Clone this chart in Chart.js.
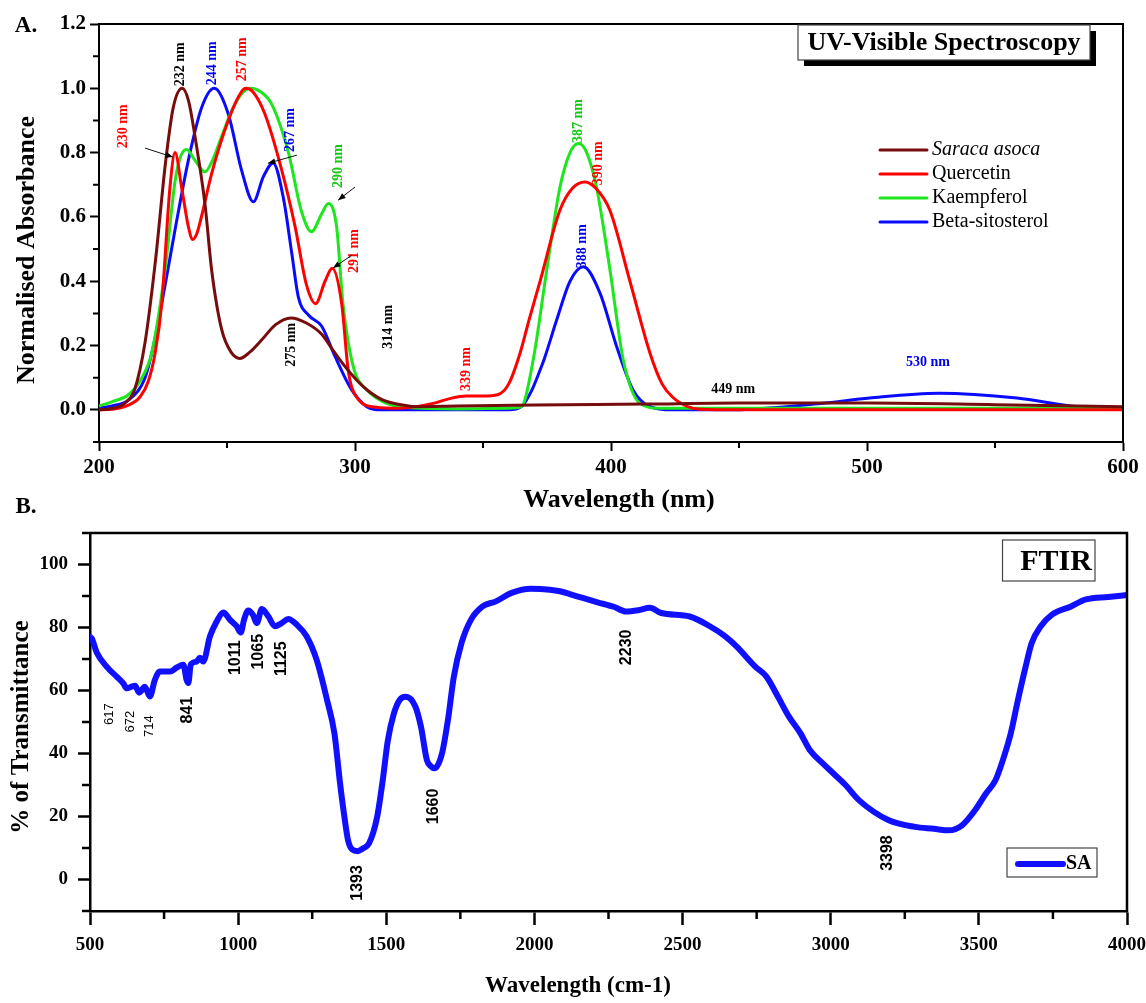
<!DOCTYPE html>
<html>
<head>
<meta charset="utf-8">
<title>UV-Visible and FTIR spectra</title>
<script src="https://cdn.jsdelivr.net/npm/chart.js@4.4.1/dist/chart.umd.min.js"></script>
<style>
  html, body { margin: 0; padding: 0; background: #fff; }
  #page { position: relative; width: 1146px; height: 1003px; overflow: hidden; }
  #uvChart { position: absolute; left: 0; top: 0; }
  #ftirChart { position: absolute; left: 0; top: 490px; }
</style>
</head>
<body>
<div id="page">
  <canvas id="uvChart" width="1146" height="520"></canvas>
  <canvas id="ftirChart" width="1146" height="513"></canvas>
</div>
<script>
// ---------- A. UV-Visible ----------
const uvXTicks = [200, 300, 400, 500, 600];
const uvXMinor = [250, 350, 450, 550];
const uvYTicks = [0, 0.2, 0.4, 0.6, 0.8, 1.0, 1.2];
const uvYMinor = [-0.1, 0.1, 0.3, 0.5, 0.7, 0.9, 1.1];

const uvSeries = ['Saraca asoca', 'Quercetin', 'Kaempferol', 'Beta-sitosterol'];
const uvColors = ['#760c0c', '#ff0000', '#1ee61e', '#0a0aff'];

const saracaX = [200, 205, 210, 214, 218, 222, 226, 229, 232.5, 235, 237.5, 241.4, 244, 247.9, 251.8, 255, 259, 263.5, 269, 275, 281, 287, 291, 295, 300.6, 305, 311, 318, 324, 340, 370, 413, 450, 501, 550, 600];
const saracaY = [0, 0.004, 0.02, 0.065, 0.21, 0.46, 0.77, 0.94, 1.0, 0.96, 0.85, 0.64, 0.435, 0.25, 0.177, 0.16, 0.18, 0.217, 0.265, 0.286, 0.27, 0.235, 0.19, 0.146, 0.093, 0.06, 0.03, 0.016, 0.01, 0.012, 0.015, 0.018, 0.021, 0.021, 0.016, 0.01];

const quercetinX = [200, 205, 211.5, 216, 219.3, 222, 224.5, 227.7, 229.7, 232.3, 234.9, 236.6, 238.3, 240, 244, 250.5, 255.7, 257.4, 260, 264.8, 271.4, 276.6, 281, 284.6, 288.3, 291.1, 294.8, 297.4, 300.6, 308.4, 317, 324, 330.5, 337, 343.6, 350, 355.7, 360, 364.5, 368, 372.3, 380, 385, 389.8, 394, 399.6, 407.4, 415.2, 420, 424, 430, 434.8, 450, 600];
const quercetinY = [0, 0.002, 0.015, 0.04, 0.09, 0.18, 0.33, 0.69, 0.80, 0.69, 0.57, 0.53, 0.55, 0.6, 0.735, 0.90, 0.99, 1.0, 0.99, 0.92, 0.745, 0.57, 0.39, 0.33, 0.40, 0.44, 0.33, 0.12, 0.04, 0.008, 0.005, 0.01, 0.02, 0.035, 0.043, 0.043, 0.047, 0.08, 0.177, 0.28, 0.40, 0.62, 0.69, 0.709, 0.69, 0.62, 0.40, 0.177, 0.08, 0.04, 0.01, 0.002, 0, 0];

const kaempferolX = [200, 205, 211.5, 216, 220.6, 225.8, 229.7, 232, 234.2, 237.5, 241.4, 244, 247.9, 253, 259, 263, 267.5, 274, 279, 283, 287, 289.6, 292.8, 295.3, 299.3, 304.6, 312.4, 320, 340, 360, 365, 369.6, 374.9, 380, 384, 387.4, 390.5, 394.4, 399.6, 404.8, 411.3, 419, 450, 600];
const kaempferolY = [0.012, 0.025, 0.047, 0.09, 0.177, 0.435, 0.71, 0.79, 0.81, 0.776, 0.74, 0.77, 0.85, 0.95, 1.0, 0.99, 0.95, 0.80, 0.62, 0.554, 0.61, 0.642, 0.57, 0.33, 0.135, 0.062, 0.02, 0.007, 0.003, 0.005, 0.01, 0.155, 0.435, 0.69, 0.80, 0.828, 0.80, 0.69, 0.435, 0.155, 0.02, 0.005, 0.005, 0.005];

const sitosterolX = [200, 205, 211.5, 218, 221, 224.5, 229.7, 234.9, 240.1, 245, 250.5, 255.7, 260.3, 264.2, 268, 272, 275.3, 277.9, 281.8, 287, 292.2, 298.7, 304.6, 310, 360, 365, 369, 372.3, 374, 378.8, 384, 389.2, 395.7, 402.2, 408.6, 415.2, 424, 445, 482, 501, 528, 558.6, 581.6, 600];
const sitosterolY = [0.005, 0.012, 0.03, 0.10, 0.19, 0.33, 0.56, 0.776, 0.94, 1.0, 0.92, 0.745, 0.647, 0.725, 0.768, 0.66, 0.487, 0.35, 0.295, 0.26, 0.166, 0.062, 0.01, 0, 0, 0.01, 0.06, 0.124, 0.16, 0.28, 0.40, 0.445, 0.363, 0.197, 0.062, 0.01, 0, 0, 0.02, 0.037, 0.052, 0.037, 0.01, 0.003];

// ---------- B. FTIR ----------
const ftirXTicks = [500, 1000, 1500, 2000, 2500, 3000, 3500, 4000];
const ftirXMinor = [750, 1250, 1750, 2250, 2750, 3250, 3750];
const ftirYTicks = [0, 20, 40, 60, 80, 100];
const ftirYMinor = [-10, 10, 30, 50, 70, 90, 110];

const ftirX = [500, 506, 523, 556, 590, 612, 624, 640, 652, 666, 685, 702, 719, 736, 770, 793, 815, 826, 832, 840, 860, 871, 882, 905, 928, 950, 972, 995, 1009, 1020, 1034, 1050, 1063, 1080, 1102, 1124, 1147, 1169, 1198, 1231, 1265, 1300, 1325, 1344, 1357, 1371, 1385, 1403, 1420, 1442, 1469, 1488, 1505, 1525, 1545, 1566, 1598, 1617, 1637, 1650, 1663, 1688, 1708, 1728, 1754, 1786, 1825, 1870, 1923, 1988, 2052, 2086, 2144, 2213, 2270, 2308, 2350, 2390, 2428, 2524, 2592, 2644, 2682, 2745, 2783, 2822, 2859, 2898, 2930, 2974, 3011, 3050, 3095, 3196, 3284, 3348, 3398, 3443, 3487, 3524, 3556, 3581, 3608, 3632, 3658, 3678, 3709, 3747, 3811, 3861, 3937, 4000];
const ftirY = [77, 76.5, 72, 67.6, 64.4, 62.3, 60.7, 61.2, 61.5, 59.3, 61.2, 58.1, 63.4, 66, 66, 67.3, 68.2, 63.4, 62.4, 68.2, 69.2, 70.4, 69.2, 77.2, 82, 84.8, 82.5, 80.4, 78.4, 82.5, 85.4, 84, 81.4, 85.9, 83.5, 80.4, 81.4, 82.7, 80.9, 77.2, 69.7, 57, 46.4, 30.5, 21, 12.4, 9.5, 9, 9.8, 11.5, 19.8, 31.5, 44, 52.5, 57, 58, 54.9, 48.5, 37.9, 36, 35.3, 40, 50.6, 64.4, 75.1, 82.5, 86.7, 88.3, 91, 92.3, 92, 91.5, 89.9, 88, 86.5, 85.1, 85.5, 86.3, 84.6, 83.5, 80.4, 77.2, 74, 67.6, 64.4, 58, 51.7, 46.4, 41, 36.8, 33.5, 30, 25.2, 18.8, 16.7, 16.1, 15.6, 17.2, 22, 27.3, 31.5, 37.9, 46.5, 57, 67.6, 75, 80.4, 84.1, 86.7, 88.9, 89.7, 90.3];

const SERIF = "'Liberation Serif', 'Times New Roman', serif";
const SANS = "'Liberation Sans', Arial, sans-serif";
Chart.defaults.font.family = SERIF;
Chart.defaults.color = '#000';

function points(xs, ys) {
  return xs.map((x, i) => ({ x, y: ys[i] }));
}

function arrow(ctx, x1, y1, x2, y2) {
  const ang = Math.atan2(y2 - y1, x2 - x1), h = 8;
  ctx.beginPath();
  ctx.moveTo(x1, y1);
  ctx.lineTo(x2, y2);
  ctx.stroke();
  ctx.beginPath();
  ctx.moveTo(x2, y2);
  ctx.lineTo(x2 - h * Math.cos(ang - 0.38), y2 - h * Math.sin(ang - 0.38));
  ctx.lineTo(x2 - h * Math.cos(ang + 0.38), y2 - h * Math.sin(ang + 0.38));
  ctx.closePath();
  ctx.fill();
}

function text(ctx, str, x, y, font, color, rot, align) {
  ctx.save();
  ctx.translate(x, y);
  if (rot) ctx.rotate(-Math.PI / 2);
  ctx.font = font;
  ctx.fillStyle = color || '#000';
  ctx.textAlign = align || 'center';
  ctx.textBaseline = 'middle';
  ctx.fillText(str, 0, 0);
  ctx.restore();
}

// frame, minor ticks, axis titles, peak labels, boxes
const panelPlugin = {
  id: 'panel',
  afterDraw(chart, args, o) {
    const { ctx, chartArea: a } = chart;
    const xs = chart.scales.x, ys = chart.scales.y;
    ctx.save();
    ctx.strokeStyle = '#000';
    ctx.lineWidth = o.lineWidth;
    ctx.beginPath();
    ctx.moveTo(a.left, a.top);
    ctx.lineTo(a.right, a.top);
    ctx.lineTo(a.right, a.bottom + o.lineWidth / 2);
    ctx.stroke();

    ctx.beginPath();
    o.xMinor.forEach(v => {
      const px = xs.getPixelForValue(v);
      ctx.moveTo(px, a.bottom);
      ctx.lineTo(px, a.bottom + o.minorLen);
    });
    o.yMinor.forEach(v => {
      const py = ys.getPixelForValue(v);
      ctx.moveTo(a.left, py);
      ctx.lineTo(a.left - o.minorLen, py);
    });
    ctx.stroke();

    text(ctx, o.letter.text, o.letter.x, o.letter.y, `bold ${o.letter.size}px ${SERIF}`);
    o.titles.forEach(t => text(ctx, t.text, t.x, t.y, `bold ${t.size}px ${SERIF}`, '#000', t.rot));

    (o.labels || []).forEach(l => {
      text(ctx, l.text, xs.getPixelForValue(l.x), ys.getPixelForValue(l.y),
        `${l.weight || 'bold'} ${l.size}px ${l.family || SERIF}`, l.color, l.rot !== false);
    });

    ctx.fillStyle = '#000';
    ctx.strokeStyle = '#111';
    ctx.lineWidth = 1;
    (o.arrows || []).forEach(r => {
      arrow(ctx, xs.getPixelForValue(r.x1), ys.getPixelForValue(r.y1),
        xs.getPixelForValue(r.x2), ys.getPixelForValue(r.y2));
    });

    if (o.badge) {
      const b = o.badge;
      if (b.shadow) {
        ctx.fillStyle = '#000';
        ctx.fillRect(b.x + b.shadow, b.y + b.shadow, b.w, b.h);
      }
      ctx.fillStyle = '#fff';
      ctx.fillRect(b.x, b.y, b.w, b.h);
      ctx.strokeStyle = '#444';
      ctx.lineWidth = 1.2;
      ctx.strokeRect(b.x, b.y, b.w, b.h);
      text(ctx, b.text, b.tx, b.ty, `bold ${b.size}px ${SERIF}`);
    }

    if (o.legend) {
      const g = o.legend;
      if (g.box) {
        ctx.fillStyle = '#fff';
        ctx.fillRect(g.box.x, g.box.y, g.box.w, g.box.h);
        ctx.strokeStyle = '#444';
        ctx.lineWidth = 1.2;
        ctx.strokeRect(g.box.x, g.box.y, g.box.w, g.box.h);
      }
      chart.data.datasets.forEach((ds, i) => {
        const y = g.y + i * g.step;
        ctx.strokeStyle = ds.borderColor;
        ctx.lineWidth = g.lineWidth;
        ctx.lineCap = 'round';
        ctx.beginPath();
        ctx.moveTo(g.x1, y);
        ctx.lineTo(g.x2, y);
        ctx.stroke();
        const style = (g.italic || []).includes(i) ? 'italic ' : '';
        text(ctx, ds.label, g.x2 + g.gap, y, `${style}${g.weight} ${g.size}px ${SERIF}`, '#000', false, 'left');
      });
    }
    ctx.restore();
  }
};

function axis(ticks, fmt, o) {
  return {
    type: 'linear',
    min: o.min,
    max: o.max,
    afterBuildTicks: s => { s.ticks = ticks.map(v => ({ value: v })); },
    afterFit: s => {
      if (o.width) s.width = o.width;
      if (o.height) s.height = o.height;
      // labels may hang past the plot edge, as in the original
      s.paddingLeft = 0; s.paddingRight = 0; s.paddingTop = 0; s.paddingBottom = 0;
    },
    grid: { drawOnChartArea: false, drawTicks: true, tickLength: o.tickLen, tickWidth: o.lw, tickColor: '#000' },
    border: { display: true, color: '#000', width: o.lw },
    ticks: { callback: fmt, font: { size: o.font, weight: 'bold' }, color: '#000', padding: o.pad, maxRotation: 0, autoSkip: false }
  };
}

const red = '#ff0000', green = '#12c812', blue = '#0000f0', black = '#000';

new Chart(document.getElementById('uvChart'), {
  type: 'line',
  data: {
    datasets: [
      { label: uvSeries[0], data: points(saracaX, saracaY) },
      { label: uvSeries[1], data: points(quercetinX, quercetinY) },
      { label: uvSeries[2], data: points(kaempferolX, kaempferolY) },
      { label: uvSeries[3], data: points(sitosterolX, sitosterolY) }
    ].map((ds, i) => Object.assign(ds, {
      borderColor: uvColors[i], borderWidth: 3, pointRadius: 0, fill: false,
      tension: 0.4, cubicInterpolationMode: 'monotone'
    }))
  },
  options: {
    responsive: false,
    animation: false,
    layout: { padding: { top: 24, right: 23, left: 0, bottom: 0 } },
    scales: {
      x: axis(uvXTicks, v => String(v), { min: 200, max: 600, height: 78, tickLen: 9, lw: 2, font: 21, pad: 4 }),
      y: axis(uvYTicks, v => v.toFixed(1), { min: -0.1, max: 1.2, width: 99, tickLen: 9, lw: 2, font: 21, pad: 4 })
    },
    plugins: {
      legend: { display: false },
      tooltip: { enabled: false },
      panel: {
        lineWidth: 2, minorLen: 6, xMinor: uvXMinor, yMinor: uvYMinor,
        letter: { text: 'A.', x: 26, y: 26, size: 23 },
        titles: [
          { text: 'Normalised Absorbance', x: 27, y: 250, size: 26, rot: true },
          { text: 'Wavelength (nm)', x: 619, y: 500, size: 26 }
        ],
        labels: [
          { text: '230 nm', x: 209.4, y: 0.882, color: red, size: 14 },
          { text: '232 nm', x: 231.6, y: 1.075, color: black, size: 14 },
          { text: '244 nm', x: 244.1, y: 1.078, color: blue, size: 14 },
          { text: '257 nm', x: 255.9, y: 1.09, color: red, size: 14 },
          { text: '267 nm', x: 274.6, y: 0.87, color: blue, size: 14 },
          { text: '290 nm', x: 293.4, y: 0.758, color: green, size: 14 },
          { text: '291 nm', x: 299.6, y: 0.494, color: red, size: 14 },
          { text: '275 nm', x: 275, y: 0.202, color: black, size: 14 },
          { text: '314 nm', x: 312.9, y: 0.258, color: black, size: 14 },
          { text: '339 nm', x: 343.4, y: 0.127, color: red, size: 14 },
          { text: '387 nm', x: 387.1, y: 0.898, color: green, size: 14 },
          { text: '390 nm', x: 394.9, y: 0.767, color: red, size: 14 },
          { text: '388 nm', x: 388.7, y: 0.509, color: blue, size: 14 },
          { text: '449 nm', x: 447.7, y: 0.065, color: black, size: 14, rot: false },
          { text: '530 nm', x: 523.8, y: 0.149, color: blue, size: 14, rot: false }
        ],
        arrows: [
          { x1: 218, y1: 0.814, x2: 228.9, y2: 0.786 },
          { x1: 277.3, y1: 0.792, x2: 266, y2: 0.767 },
          { x1: 300, y1: 0.693, x2: 293.4, y2: 0.652 },
          { x1: 298.8, y1: 0.481, x2: 291.4, y2: 0.441 }
        ],
        badge: { text: 'UV-Visible Spectroscopy', x: 798, y: 25, w: 292, h: 35, shadow: 6, tx: 944, ty: 43, size: 26 },
        legend: { x1: 880, x2: 927, gap: 5, y: 150, step: 24, lineWidth: 3, size: 20, weight: 'normal', italic: [0] }
      }
    }
  },
  plugins: [panelPlugin]
});

new Chart(document.getElementById('ftirChart'), {
  type: 'line',
  data: {
    datasets: [{
      label: 'SA', data: points(ftirX, ftirY), borderColor: '#1010ff', borderWidth: 6,
      pointRadius: 0, fill: false, tension: 0.3, cubicInterpolationMode: 'monotone',
      borderJoinStyle: 'round', borderCapStyle: 'round'
    }]
  },
  options: {
    responsive: false,
    animation: false,
    layout: { padding: { top: 43, right: 19, left: 0, bottom: 0 } },
    scales: {
      x: axis(ftirXTicks, v => String(v), { min: 500, max: 4000, height: 92, tickLen: 14, lw: 2.5, font: 19, pad: 9 }),
      y: axis(ftirYTicks, v => String(v), { min: -10, max: 110, width: 90, tickLen: 12, lw: 2.5, font: 19, pad: 10 })
    },
    plugins: {
      legend: { display: false },
      tooltip: { enabled: false },
      panel: {
        lineWidth: 2.5, minorLen: 8, xMinor: ftirXMinor, yMinor: ftirYMinor,
        letter: { text: 'B.', x: 26, y: 17, size: 23 },
        titles: [
          { text: '% of Transmittance', x: 22, y: 237, size: 25, rot: true },
          { text: 'Wavelength (cm-1)', x: 578, y: 496, size: 23 }
        ],
        labels: [
          { text: '617', x: 565.8, y: 52.5, size: 13, weight: 'normal', family: SANS, color: black },
          { text: '672', x: 637.7, y: 50.1, size: 13, weight: 'normal', family: SANS, color: black },
          { text: '714', x: 699, y: 48.7, size: 13, weight: 'normal', family: SANS, color: black },
          { text: '841', x: 829, y: 53.8, size: 16, family: SANS, color: black },
          { text: '1011', x: 991, y: 70.4, size: 16, family: SANS, color: black },
          { text: '1065', x: 1068.7, y: 72.3, size: 16, family: SANS, color: black },
          { text: '1125', x: 1146, y: 70.1, size: 16, family: SANS, color: black },
          { text: '1393', x: 1403.5, y: -1.1, size: 16, family: SANS, color: black },
          { text: '1660', x: 1659, y: 23.2, size: 16, family: SANS, color: black },
          { text: '2230', x: 2311, y: 73.7, size: 16, family: SANS, color: black },
          { text: '3398', x: 3193, y: 8.4, size: 16, family: SANS, color: black }
        ],
        badge: { text: 'FTIR', x: 1002.5, y: 50, w: 92.5, h: 41, shadow: 0, tx: 1056, ty: 72, size: 30 },
        legend: {
          box: { x: 1007, y: 358, w: 90, h: 29 },
          x1: 1018, x2: 1063, gap: 3, y: 374, step: 0, lineWidth: 6, size: 20, weight: 'bold'
        }
      }
    }
  },
  plugins: [panelPlugin]
});
</script>
</body>
</html>
